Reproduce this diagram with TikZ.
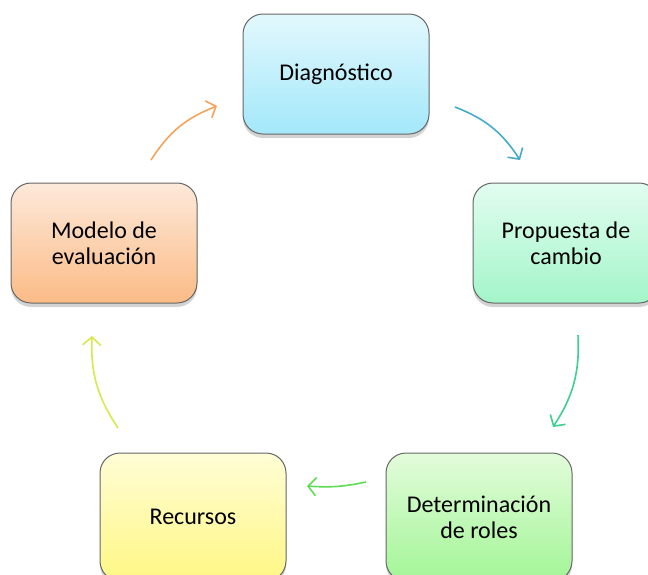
\documentclass[tikz,border=0pt]{standalone}
\usepackage{fontspec}
\setmainfont{Carlito}
\usetikzlibrary{positioning}
\usetikzlibrary{shadows}
\usetikzlibrary{arrows.meta}
\definecolor{diagtop}{HTML}{E2F8FD}
\definecolor{diagbot}{HTML}{A3E8FA}
\definecolor{proptop}{HTML}{E2FDF0}
\definecolor{propbot}{HTML}{A3F5C9}
\definecolor{roltop}{HTML}{E2FCDA}
\definecolor{rolbot}{HTML}{A3F597}
\definecolor{rectop}{HTML}{FFFDD6}
\definecolor{recbot}{HTML}{FFF784}
\definecolor{modtop}{HTML}{FDE9DA}
\definecolor{modbot}{HTML}{FBBB86}
\definecolor{arrblue}{HTML}{45ABC9}
\definecolor{arrteal}{HTML}{3DD08F}
\definecolor{arrgreen}{HTML}{5EDC55}
\definecolor{arryellow}{HTML}{D6E84C}
\definecolor{arrorange}{HTML}{F5A35A}
\tikzset{
	% boxes of the cycle
	stagebox/.style={draw=gray!80!black,line width=0.5pt,rounded corners=10pt,
		minimum width=93pt,minimum height=60pt,align=center,
		font=\fontsize{12}{13}\selectfont,
		drop shadow={shadow xshift=0pt,shadow yshift=-2pt,opacity=0.35}},
	% curved arrows between boxes
	cyclearrow/.style={line width=0.8pt,-{Straight Barb[length=4pt,width=9pt]},bend left=18},
}
\begin{document}
\begin{tikzpicture}[x=0.5pt,y=-0.5pt]
\useasboundingbox (0,0) rectangle (648,574);
\clip (0,0) rectangle (648,574);
% the five stages
\node[stagebox,top color=diagtop,bottom color=diagbot] (diag) at (336,74) {Diagnóstico};
\node[stagebox,top color=proptop,bottom color=propbot] (prop) at (566,243) {Propuesta de\\cambio};
\node[stagebox,top color=roltop,bottom color=rolbot,minimum height=64pt] (rol) at (479,517) {Determinación\\de roles};
\node[stagebox,top color=rectop,bottom color=recbot,minimum height=64pt] (rec) at (193,517) {Recursos};
\node[stagebox,top color=modtop,bottom color=modbot] (mod) at (104,243) {Modelo de\\evaluación};
% arrow ends
\coordinate (diagout) at (455,107);
\coordinate (propin) at (520,160);
\coordinate (propout) at (578,335);
\coordinate (rolin) at (553,427);
\coordinate (rolout) at (366,482);
\coordinate (recin) at (307,486);
\coordinate (recout) at (118,428);
\coordinate (modin) at (92,336);
\coordinate (modout) at (151,160);
\coordinate (diagin) at (217,106);
% the arrows
\draw[cyclearrow,arrblue] (diagout) to (propin);
\draw[cyclearrow,arrteal] (propout) to (rolin);
\draw[cyclearrow,arrgreen,bend left=8] (rolout) to (recin);
\draw[cyclearrow,arryellow] (recout) to (modin);
\draw[cyclearrow,arrorange] (modout) to (diagin);
\end{tikzpicture}
\end{document}
